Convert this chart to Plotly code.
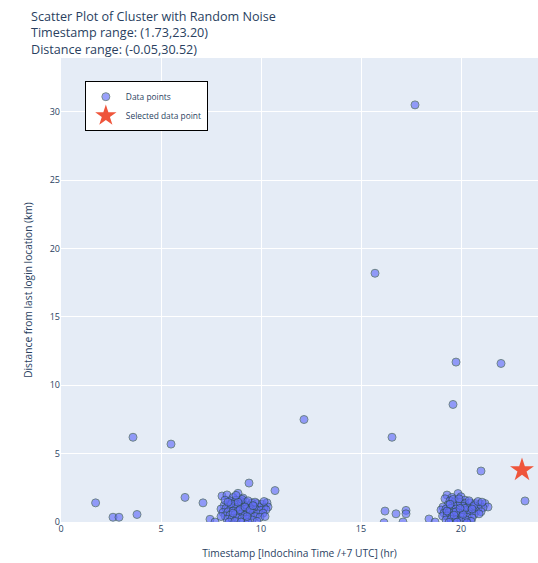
import plotly.graph_objects as go

noise_x = [1.73, 2.60, 2.90, 3.80, 3.60, 5.50, 6.20, 7.10, 9.40, 10.70, 12.15, 15.70, 17.70,
           16.55, 16.20, 16.75, 17.25, 17.25, 16.15, 17.10, 19.75, 19.60, 22.00, 21.00, 23.20]
noise_y = [1.40, 0.35, 0.35, 0.55, 6.20, 5.70, 1.80, 1.40, 2.85, 2.30, 7.50, 18.20, 30.52,
           6.20, 0.80, 0.60, 0.85, 0.60, -0.05, 0.00, 11.70, 8.60, 11.60, 3.73, 1.54]

cluster1 = [(8.05,1.90),(8.30,1.98),(8.85,2.10),(9.10,1.75),(8.60,1.80),(8.45,1.55),(8.75,1.60),
            (9.00,1.50),(9.25,1.45),(9.55,1.40),(9.80,1.35),(10.05,1.30),(10.30,1.40),(10.35,1.10),
            (10.15,1.05),(9.90,1.10),(9.65,1.15),(9.40,1.20),(9.15,1.25),(8.90,1.30),(8.65,1.30),
            (8.40,1.25),(8.15,1.20),(8.00,0.95),(8.25,1.00),(8.50,1.05),(8.75,1.05),(9.00,1.00),
            (9.25,0.95),(9.50,0.95),(9.75,0.90),(10.00,0.85),(10.25,0.90),(8.10,0.70),(8.35,0.75),
            (8.60,0.80),(8.85,0.80),(9.10,0.75),(9.35,0.70),(9.60,0.65),(9.85,0.60),(10.10,0.65),
            (8.20,0.45),(8.45,0.50),(8.70,0.55),(8.95,0.55),(9.20,0.50),(9.45,0.45),(9.70,0.40),
            (9.95,0.35),(8.30,0.20),(8.55,0.25),(8.80,0.30),(9.05,0.25),(9.30,0.20),(9.55,0.15),
            (8.40,0.00),(8.70,0.05),(9.00,0.00),(9.35,-0.02),(9.80,0.05),(7.45,0.20),(7.70,0.00),
            (8.50,1.35),(9.05,1.65),(9.35,1.55),(8.20,1.60),(9.70,1.45),(10.15,1.50),(8.95,0.90),
            (9.20,1.10),(8.60,0.65),(9.45,0.85),(8.85,1.45),(9.30,0.40),(8.00,0.40),(10.20,0.40),
            (8.75,1.95),(9.60,1.20),(8.35,1.45)]

cluster2 = [(19.30,1.97),(19.85,2.08),(19.20,1.70),(19.55,1.80),(20.00,1.85),(20.20,1.60),(19.45,1.55),
            (19.70,1.50),(19.95,1.45),(20.20,1.35),(20.45,1.40),(20.70,1.35),(20.95,1.30),(21.20,1.35),
            (21.35,1.10),(21.10,1.05),(20.85,1.05),(20.60,1.10),(20.35,1.10),(20.10,1.15),(19.85,1.20),
            (19.60,1.25),(19.35,1.25),(19.10,1.10),(19.00,0.88),(19.25,0.95),(19.50,1.00),(19.75,0.95),
            (20.00,0.90),(20.25,0.85),(20.50,0.85),(20.75,0.80),(21.00,0.75),(19.15,0.65),(19.40,0.70),
            (19.65,0.70),(19.90,0.65),(20.15,0.60),(20.40,0.60),(20.65,0.55),(20.90,0.60),(19.08,0.44),
            (19.30,0.45),(19.55,0.40),(19.80,0.40),(20.05,0.35),(20.30,0.35),(20.55,0.30),(19.25,0.15),
            (19.50,0.20),(19.75,0.15),(20.00,0.10),(20.25,0.15),(20.50,0.05),(19.40,-0.02),(19.80,0.00),
            (20.30,-0.05),(18.40,0.22),(18.70,0.00),(19.60,1.65),(19.90,1.70),(20.40,1.55),(20.65,1.20),
            (19.75,0.75),(20.20,1.00),(19.45,1.30),(20.85,1.50),(21.05,1.45),(19.65,0.50),(20.10,0.55),
            (19.30,0.80),(20.55,0.95),(19.95,1.00)]

selected_x = [23.05]
selected_y = [3.80]

data_x = noise_x + [p[0] for p in cluster1] + [p[0] for p in cluster2]
data_y = noise_y + [p[1] for p in cluster1] + [p[1] for p in cluster2]

W, H = 538, 563

fig = go.Figure()
fig.add_trace(go.Scatter(
    x=data_x, y=data_y, mode="markers", name="Data points",
    marker=dict(size=8, color="#636efa", opacity=0.65,
                line=dict(width=1, color="DarkSlateGrey")),
))
fig.add_trace(go.Scatter(
    x=selected_x, y=selected_y, mode="markers", name="Selected data point",
    marker=dict(size=18, color="#EF553B", symbol="star"),
))

fig.update_layout(
    template="plotly",
    width=W, height=H,
    margin=dict(l=61, r=0, t=58, b=41),
    title=dict(
        text="Scatter Plot of Cluster with Random Noise<br>Timestamp range: (1.73,23.20)<br>Distance range: (-0.05,30.52)",
        x=31/W, xanchor="left", xref="container",
        y=1 - 21/H, yanchor="top",
        font=dict(size=12.6),
    ),
    xaxis=dict(title=dict(text="Timestamp [Indochina Time /+7 UTC] (hr)", font=dict(size=10.2)),
               range=[0, 23.85], dtick=5, tickfont=dict(size=9), zeroline=False),
    yaxis=dict(title=dict(text="Distance from last login location (km)", font=dict(size=10.2)),
               range=[0, 33.95], dtick=5, tickfont=dict(size=9), zeroline=False),
    legend=dict(x=0.05, y=0.95, xanchor="left", yanchor="top",
                bgcolor="white", bordercolor="black", borderwidth=1,
                font=dict(size=8.4)),
)

fig.write_html("out.html",
               config={"displayModeBar": False},
               post_script="document.body.style.margin='0';document.body.style.overflow='hidden';")
